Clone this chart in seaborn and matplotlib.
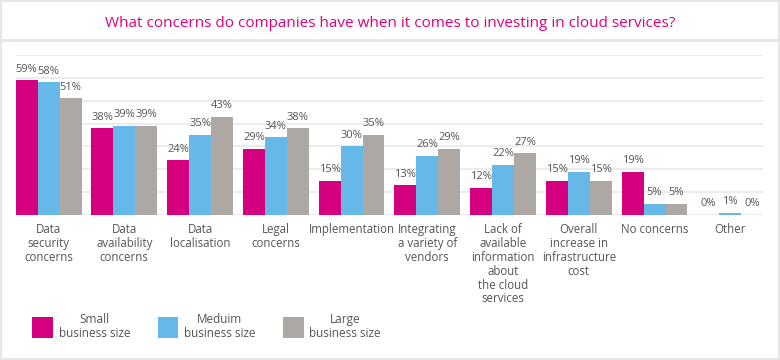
import pandas as pd
import seaborn as sns
import matplotlib.pyplot as plt
from matplotlib.patches import Patch, Rectangle
from matplotlib.lines import Line2D

# chart data
categories = ['Data\nsecurity\nconcerns', 'Data\navailability\nconcerns', 'Data\nlocalisation',
              'Legal\nconcerns', 'Implementation', 'Integrating\na variety of\nvendors',
              'Lack of\navailable\ninformation\nabout\nthe cloud\nservices',
              'Overall\nincrease in\ninfrastructure\ncost', 'No concerns', 'Other']
small = [59, 38, 24, 29, 15, 13, 12, 15, 19, 0]
medium = [58, 39, 35, 34, 30, 26, 22, 19, 5, 1]
large = [51, 39, 43, 38, 35, 29, 27, 15, 5, 0]
sizes = ['Small business size', 'Meduim business size', 'Large business size']
legend_labels = ['Small\nbusiness size', 'Meduim\nbusiness size', 'Large\nbusiness size']
colors = ['#D4007F', '#66B8E8', '#ADA8A3']

df = pd.DataFrame({'Category': categories * 3,
                   'Size': [s for s in sizes for _ in categories],
                   'Value': small + medium + large})

sns.set_theme(style='white')
plt.rcParams['font.family'] = ['Open Sans', 'DejaVu Sans']
text_col = '#555555'

fig = plt.figure(figsize=(7.8, 3.6), dpi=100)
ax = fig.add_axes([0.0205, 0.4028, 0.978 - 0.0205, 0.8472 - 0.4028])

sns.barplot(data=df, x='Category', y='Value', hue='Size', palette=colors,
            width=0.87, gap=0, saturation=1, linewidth=0, legend=False, ax=ax, zorder=3)

for cont in ax.containers:
    ax.bar_label(cont, fmt='%g%%', padding=4, fontsize=8, color=text_col)

ax.set_ylim(0, 70)
ax.set_xlim(-0.43, 9.43)
ax.set_yticks(range(0, 71, 10))
ax.yaxis.grid(True, color='#ececec', linewidth=1.5)
ax.set_axisbelow(True)
ax.set_yticklabels([])
ax.tick_params(axis='y', length=0)
ax.tick_params(axis='x', length=0, pad=6, labelsize=8.3, labelcolor=text_col)
ax.set_xlabel('')
ax.set_ylabel('')
sns.despine(ax=ax, left=True, bottom=True)
for lbl in ax.get_xticklabels():
    lbl.set_linespacing(1.08)

# title band and border
fig.text(0.5, 0.936, 'What concerns do companies have when it comes to investing in cloud services?',
         ha='center', va='center', fontsize=11, color='#E0007A')
fig.add_artist(Line2D([0, 1], [0.889, 0.889], color='#e6e6e6', linewidth=2, transform=fig.transFigure))
fig.add_artist(Rectangle((0, 0), 1, 1, fill=False, edgecolor='#e6e6e6', linewidth=3,
                         transform=fig.transFigure))

# legend
handles = [Patch(facecolor=c, edgecolor='none') for c in colors]
leg = fig.legend(handles, legend_labels, loc='lower left', bbox_to_anchor=(0.028, 0.027),
                 ncol=3, frameon=False, fontsize=8.5, handlelength=1.75, handleheight=2.3,
                 handletextpad=0.5, columnspacing=2.3, labelcolor=text_col)
for t in leg.get_texts():
    t.set_multialignment('center')
    t.set_linespacing(1.1)

plt.savefig('out.png', dpi=100)
